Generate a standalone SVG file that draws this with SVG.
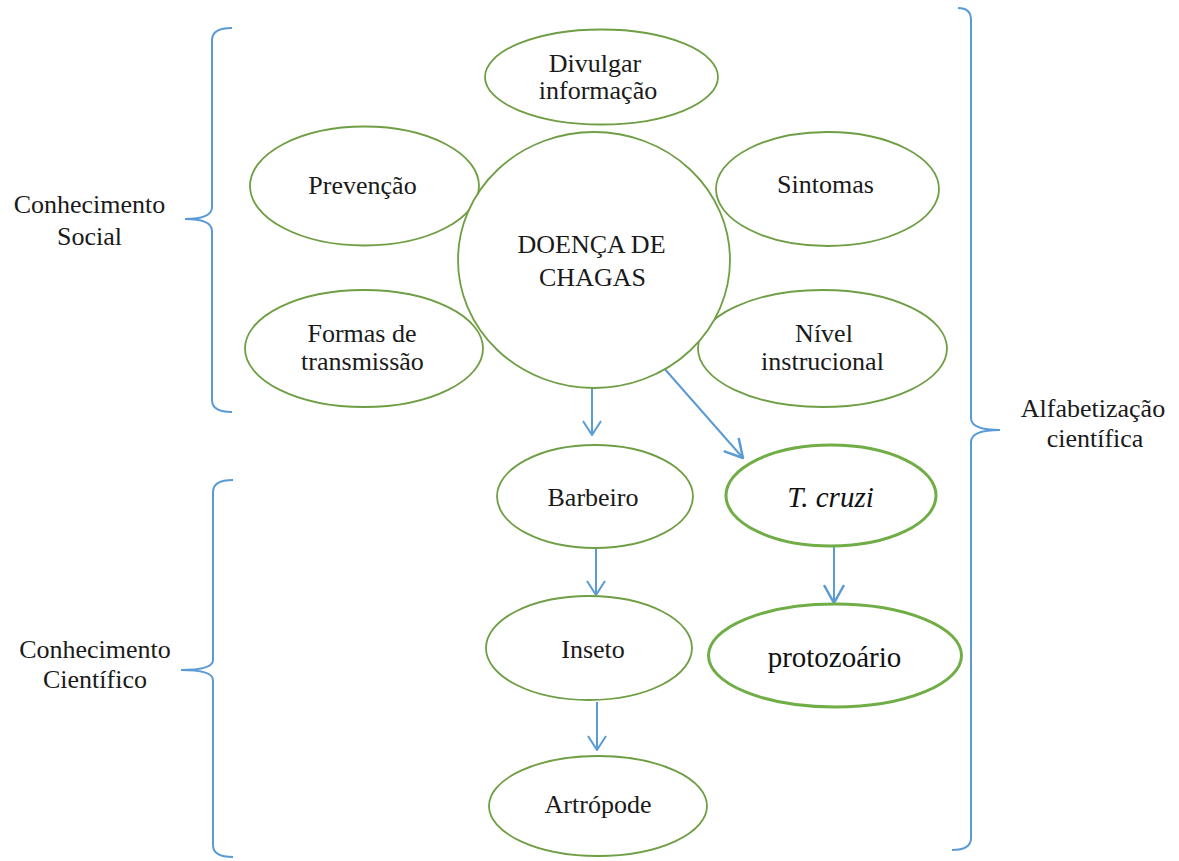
<svg xmlns="http://www.w3.org/2000/svg" width="1179" height="861" viewBox="0 0 1179 861">
<defs>
<style>
.n{fill:#fff;stroke:#6f9e45;stroke-width:1.8}
.nb{fill:#fff;stroke:#70ad47;stroke-width:3}
text{font-family:'Liberation Serif','DejaVu Serif',serif}
.t{font-size:26px;fill:#1a1a1a;text-anchor:middle}
.tb{font-size:29px;fill:#111;text-anchor:middle}
.c{stroke:#5b9bd5;stroke-width:2;fill:none}
.br{stroke:#5b9bd5;stroke-width:2;fill:none}
</style>
<marker id="ah" viewBox="0 0 16 20" refX="15" refY="10" markerWidth="16" markerHeight="20" markerUnits="userSpaceOnUse" orient="auto">
<path d="M1,1 L15,10 L1,19" fill="none" stroke="#5b9bd5" stroke-width="2"/>
</marker>
<marker id="ah2" viewBox="0 0 20 22" refX="19" refY="11" markerWidth="20" markerHeight="22" markerUnits="userSpaceOnUse" orient="auto">
<path d="M1,1 L19,11 L1,21" fill="none" stroke="#5b9bd5" stroke-width="2.5"/>
</marker>
</defs>
<rect width="1179" height="861" fill="#fff"/>

<g id="braces">
<path class="br" d="M232,28 Q212,28 212,40 L212,207 Q212,219 185,219 Q212,219 212,231 L212,400 Q212,412 232,412"/>
<path class="br" d="M233,480 Q213,480 213,492 L213,660 Q213,670 181,670 Q213,670 213,680 L213,845 Q213,857 233,857"/>
<path class="br" d="M958,8 Q971,8 971,20 L971,418 Q971,430 1000,430 Q971,430 971,442 L971,838 Q971,850 952,850"/>
</g>

<g id="labels" font-family="Liberation Serif, DejaVu Serif, serif">
<text class="t" x="89.5" y="213">Conhecimento</text>
<text class="t" x="89.5" y="245">Social</text>
<text class="t" x="95" y="658">Conhecimento</text>
<text class="t" x="95" y="688">Científico</text>
<text class="t" x="1093" y="417">Alfabetização</text>
<text class="t" x="1095" y="447">científica</text>
</g>

<g id="connectors">
<line class="c" x1="592" y1="388" x2="592" y2="435" marker-end="url(#ah)"/>
<line class="c" x1="663" y1="367" x2="743" y2="458" marker-end="url(#ah2)"/>
<line class="c" x1="596" y1="549" x2="596" y2="595" marker-end="url(#ah)"/>
<line class="c" x1="834" y1="546" x2="834" y2="603" stroke-width="2.5" marker-end="url(#ah2)"/>
<line class="c" x1="597" y1="702" x2="597" y2="750" marker-end="url(#ah)"/>
</g>

<g id="divulgar">
<ellipse class="n" cx="601.5" cy="77" rx="116.5" ry="47.5"/>
<text class="t" x="595" y="72" font-size="25">Divulgar</text>
<text class="t" x="598" y="99" font-size="25">informação</text>
</g>
<g id="prevencao">
<ellipse class="n" cx="364.5" cy="186" rx="114.5" ry="59.5"/>
<text class="t" x="362.5" y="194">Prevenção</text>
</g>
<g id="sintomas">
<ellipse class="n" cx="827.5" cy="189" rx="111.5" ry="57"/>
<text class="t" x="825.5" y="193">Sintomas</text>
</g>
<g id="formas">
<ellipse class="n" cx="364" cy="348.5" rx="119" ry="58.5"/>
<text class="t" x="362" y="342">Formas de</text>
<text class="t" x="362.5" y="370">transmissão</text>
</g>
<g id="nivel">
<ellipse class="n" cx="822.5" cy="348.5" rx="124.5" ry="58.5"/>
<text class="t" x="824" y="342">Nível</text>
<text class="t" x="822.5" y="370">instrucional</text>
</g>
<g id="doenca">
<ellipse class="n" cx="594" cy="260" rx="136" ry="128"/>
<text class="t" x="591.5" y="253">DOENÇA DE</text>
<text class="t" x="592.5" y="286">CHAGAS</text>
</g>
<g id="barbeiro">
<ellipse class="n" cx="595" cy="496.5" rx="98" ry="51.5"/>
<text class="t" x="593" y="506">Barbeiro</text>
</g>
<g id="tcruzi">
<ellipse class="nb" cx="831" cy="495.5" rx="105" ry="50.5"/>
<text class="tb" x="830.5" y="507" font-style="italic" font-size="30">T. cruzi</text>
</g>
<g id="inseto">
<ellipse class="n" cx="589" cy="648" rx="103" ry="52"/>
<text class="t" x="593" y="658">Inseto</text>
</g>
<g id="protozoario">
<ellipse class="nb" cx="835" cy="655.5" rx="126.5" ry="51.5"/>
<text class="tb" x="834.5" y="667">protozoário</text>
</g>
<g id="artropode">
<ellipse class="n" cx="598" cy="806" rx="109" ry="50"/>
<text class="t" x="598" y="813">Artrópode</text>
</g>
</svg>
